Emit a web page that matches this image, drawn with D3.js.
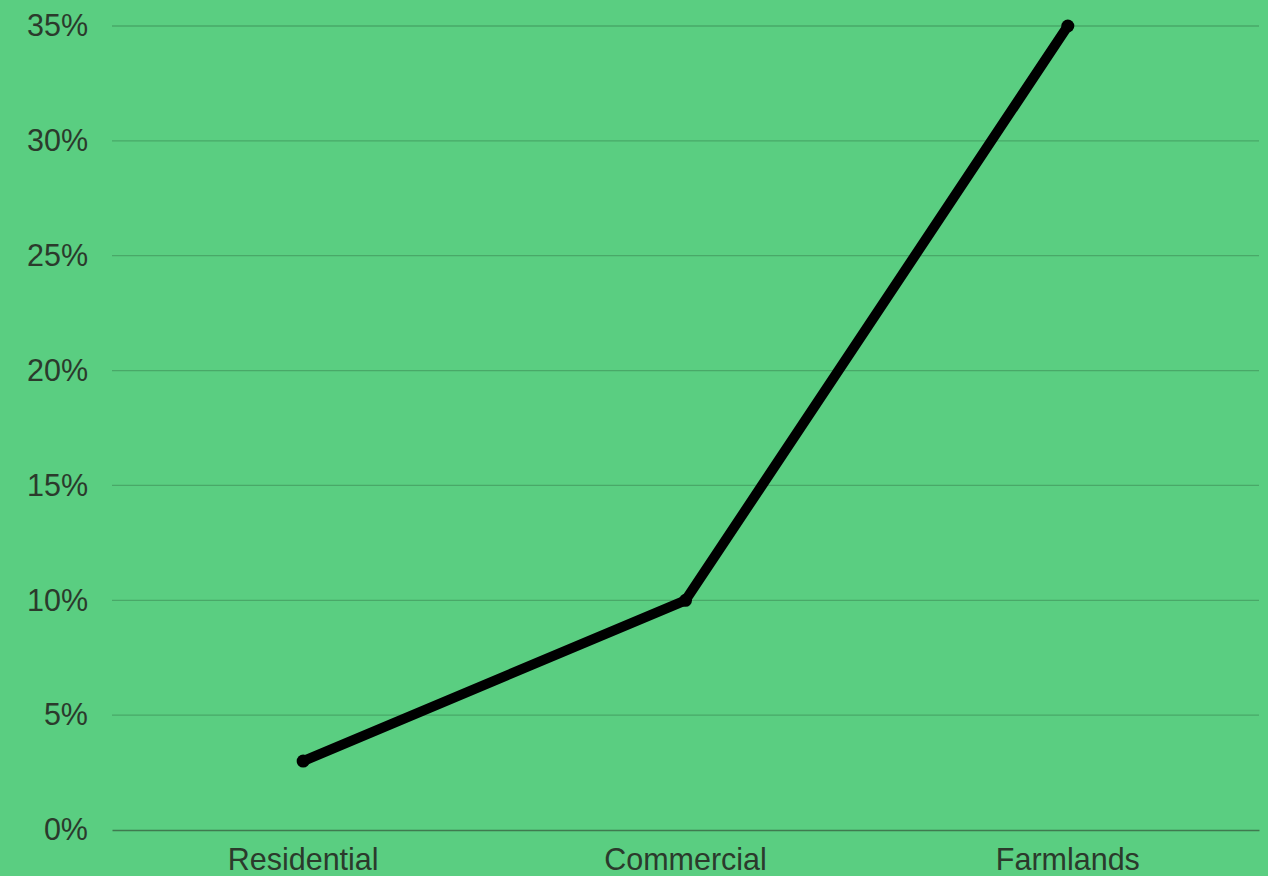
<!DOCTYPE html>
<html>
<head>
<meta charset="utf-8">
<script src="https://cdn.jsdelivr.net/npm/d3@7"></script>
<style>
  html, body { margin: 0; padding: 0; background: #5ace81; overflow: hidden; }
  text { font-family: "Liberation Sans", Arial, sans-serif; }
</style>
</head>
<body>
<div id="chart"></div>
<script>
// chart data
const categories = ["Residential", "Commercial", "Farmlands"];
const values = [0.03, 0.10, 0.35];
const yTicks = [0, 0.05, 0.10, 0.15, 0.20, 0.25, 0.30, 0.35];

const width = 1268, height = 876;
const margin = {top: 26, right: 9, bottom: 46, left: 112};

const svg = d3.select("#chart")
  .append("svg")
    .attr("width", width)
    .attr("height", height)
    .style("background-color", "#5ace81");

const xScale = d3.scaleBand()
  .domain(categories)
  .range([margin.left, width - margin.right]);

const yScale = d3.scaleLinear()
  .domain([0, 0.35])
  .range([height - margin.bottom, margin.top]);

// horizontal gridlines
svg.append("g")
  .selectAll("line")
  .data(yTicks.filter(d => d > 0))
  .enter().append("line")
    .attr("x1", margin.left)
    .attr("x2", width - margin.right)
    .attr("y1", d => yScale(d))
    .attr("y2", d => yScale(d))
    .attr("stroke", "#49a868")
    .attr("stroke-width", 1.3);

// y axis labels
const yAxis = svg.append("g")
  .attr("transform", `translate(${margin.left},0)`)
  .call(d3.axisLeft(yScale).tickValues(yTicks).tickFormat(d3.format(".0%")).tickSize(0).tickPadding(24));
yAxis.select(".domain").remove();
yAxis.selectAll("text")
  .attr("font-size", 30.5)
  .attr("font-family", "'Liberation Sans', Arial, sans-serif")
  .attr("fill", "#2b3a2c");

// x axis
const xAxis = svg.append("g")
  .attr("transform", `translate(0,${height - margin.bottom})`)
  .call(d3.axisBottom(xScale).tickSize(0).tickPadding(18));
xAxis.select(".domain")
  .attr("stroke", "#3f7a4f")
  .attr("stroke-width", 1.5);
xAxis.selectAll("text")
  .attr("font-size", 30.5)
  .attr("font-family", "'Liberation Sans', Arial, sans-serif")
  .attr("fill", "#2b3a2c");

// the line
const line = d3.line()
  .x((d, i) => xScale(categories[i]) + xScale.bandwidth() / 2)
  .y(d => yScale(d));

svg.append("path")
  .datum(values)
  .attr("d", line)
  .attr("fill", "none")
  .attr("stroke", "#000")
  .attr("stroke-width", 10)
  .attr("stroke-linejoin", "round");

svg.append("g")
  .selectAll("circle")
  .data(values)
  .enter().append("circle")
    .attr("cx", (d, i) => xScale(categories[i]) + xScale.bandwidth() / 2)
    .attr("cy", d => yScale(d))
    .attr("r", 6.5)
    .attr("fill", "#000");
</script>
</body>
</html>
